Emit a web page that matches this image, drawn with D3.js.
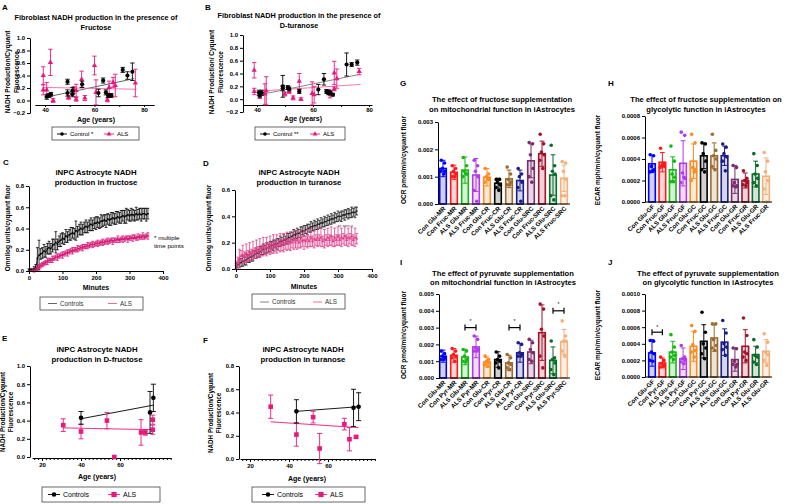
<!DOCTYPE html>
<html><head><meta charset="utf-8">
<script src="https://cdn.jsdelivr.net/npm/d3@7"></script>
<style>body{margin:0;background:#fff}svg{font-family:"Liberation Sans",Arial,sans-serif;display:block}</style>
</head><body><svg id="c" width="791" height="504"></svg>
<script>
// ---------------- DATA ----------------
// Panel A (fibroblast, fructose)
const ageA_ctrl = [40.7,41.7,42.4,49.1,49.1,51.1,51.1,55.0,61.6,63.5,64.6,65.5,66.8,71.4,73.3,75.3];
const valA_ctrl = [0.06,0.08,0.10,0.30,0.12,0.16,0.10,0.26,0.12,0.32,0.13,0.08,0.08,0.49,0.40,0.46];
const sdA_ctrl  = [0.04,0.03,0.03,0.04,0.05,0.05,0.04,0.05,0.06,0.04,0.04,0.03,0.03,0.04,0.06,0.14];
const ageA_als = [39.3,39.3,40.7,42.2,43.3,49.5,51.7,52.6,52.6,54.8,56.1,60.0,60.6,65.2,65.9,67.5,68.4,76.5];
const valA_als = [0.40,0.17,0.17,0.61,0.00,0.05,0.17,0.02,0.16,0.34,0.04,0.56,0.13,0.01,0.21,0.29,0.24,0.28];
const sdA_als  = [0.14,0.08,0.12,0.21,0.03,0.03,0.05,0.03,0.10,0.13,0.04,0.15,0.20,0.03,0.10,0.08,0.18,0.22];
const fitA_ctrl = [[40,0.05],[76,0.35]];
const fitA_als  = [[39,0.21],[77,0.18]];
// Panel B (fibroblast, D-turanose)
const ageB_ctrl = [40.7,41.7,41.0,49.2,49.2,51.0,51.5,55.1,61.9,63.9,64.8,65.5,66.2,67.1,72.0,73.8,75.8];
const valB_ctrl = [0.10,0.10,0.06,0.20,0.17,0.18,0.16,0.12,0.15,0.31,0.12,0.10,0.10,0.07,0.54,0.54,0.57];
const sdB_ctrl  = [0.04,0.04,0.03,0.17,0.04,0.03,0.03,0.03,0.08,0.09,0.03,0.03,0.03,0.02,0.18,0.03,0.04];
const ageB_als = [39.0,39.0,41.0,42.8,43.3,50.0,51.5,52.9,55.1,55.7,59.7,60.4,65.7,66.1,67.6,68.5,67.6,76.5];
const valB_als = [0.45,0.12,0.06,0.08,0.13,0.08,0.12,0.02,0.28,0.00,0.09,0.07,0.12,0.07,0.41,0.32,0.16,0.43];
const sdB_als  = [0.12,0.05,0.05,0.16,0.22,0.03,0.03,0.03,0.12,0.02,0.18,0.13,0.03,0.05,0.18,0.15,0.03,0.05];
const fitB_ctrl = [[40,0.06],[76,0.38]];
const fitB_als  = [[39,0.12],[77,0.23]];
// Panel C (iNPC astrocyte time course, fructose), minutes 0..355 step 5
const minutes = [0,5,10,15,20,25,30,35,40,45,50,55,60,65,70,75,80,85,90,95,100,105,110,115,120,125,130,135,140,145,150,155,160,165,170,175,180,185,190,195,200,205,210,215,220,225,230,235,240,245,250,255,260,265,270,275,280,285,290,295,300,305,310,315,320,325,330,335,340,345,350,355];
const ctrlC = [0.01,0.01,0.01,0.02,0.03,0.12,0.15,0.16,0.17,0.19,0.18,0.21,0.22,0.21,0.24,0.25,0.27,0.25,0.28,0.29,0.31,0.30,0.33,0.32,0.34,0.35,0.36,0.35,0.38,0.37,0.39,0.40,0.39,0.41,0.42,0.41,0.43,0.44,0.43,0.45,0.45,0.46,0.45,0.47,0.47,0.48,0.47,0.49,0.48,0.49,0.50,0.49,0.50,0.51,0.50,0.51,0.52,0.51,0.52,0.53,0.52,0.53,0.53,0.52,0.54,0.53,0.54,0.53,0.54,0.54,0.53,0.54];
const sdCtrlC = [0.01,0.01,0.01,0.02,0.03,0.10,0.14,0.05,0.05,0.06,0.05,0.05,0.06,0.05,0.06,0.05,0.10,0.05,0.05,0.06,0.05,0.05,0.06,0.05,0.05,0.06,0.05,0.05,0.09,0.05,0.05,0.06,0.05,0.05,0.06,0.05,0.05,0.06,0.05,0.05,0.06,0.05,0.05,0.06,0.05,0.05,0.06,0.05,0.05,0.06,0.05,0.05,0.06,0.05,0.05,0.06,0.05,0.06,0.07,0.05,0.05,0.06,0.05,0.05,0.06,0.05,0.05,0.06,0.05,0.05,0.06,0.05];
const alsC = [0.00,0.00,0.00,0.00,0.01,0.02,0.04,0.05,0.06,0.07,0.08,0.09,0.10,0.10,0.11,0.12,0.13,0.13,0.14,0.15,0.15,0.16,0.17,0.17,0.18,0.19,0.19,0.20,0.20,0.21,0.21,0.22,0.22,0.23,0.23,0.24,0.24,0.25,0.25,0.25,0.26,0.26,0.26,0.27,0.27,0.27,0.28,0.28,0.28,0.29,0.28,0.29,0.29,0.30,0.29,0.30,0.30,0.30,0.31,0.30,0.31,0.31,0.31,0.32,0.31,0.32,0.32,0.32,0.33,0.32,0.33,0.33];
const sdAlsC = [0.00,0.00,0.00,0.01,0.01,0.02,0.02,0.02,0.02,0.02,0.02,0.03,0.02,0.02,0.03,0.02,0.02,0.03,0.02,0.02,0.03,0.02,0.02,0.03,0.02,0.02,0.03,0.02,0.02,0.03,0.02,0.02,0.03,0.02,0.02,0.03,0.02,0.02,0.03,0.02,0.02,0.03,0.02,0.02,0.03,0.02,0.02,0.03,0.02,0.02,0.03,0.02,0.02,0.03,0.02,0.02,0.03,0.02,0.02,0.03,0.02,0.02,0.03,0.02,0.02,0.03,0.02,0.02,0.03,0.02,0.02,0.03];
// Panel D (turanose)
const ctrlD = [0.02,0.03,0.04,0.05,0.06,0.06,0.07,0.08,0.09,0.09,0.10,0.11,0.12,0.12,0.13,0.14,0.15,0.15,0.16,0.16,0.17,0.18,0.18,0.19,0.19,0.20,0.21,0.21,0.22,0.22,0.23,0.24,0.24,0.25,0.26,0.26,0.27,0.27,0.28,0.29,0.29,0.30,0.30,0.31,0.32,0.32,0.33,0.33,0.34,0.34,0.35,0.35,0.36,0.36,0.37,0.37,0.38,0.38,0.39,0.39,0.40,0.40,0.40,0.41,0.41,0.42,0.42,0.42,0.43,0.43,0.43,0.44];
const sdCtrlD = [0.02,0.02,0.03,0.03,0.04,0.03,0.04,0.03,0.04,0.03,0.04,0.03,0.04,0.03,0.04,0.03,0.04,0.03,0.04,0.03,0.04,0.03,0.04,0.03,0.04,0.03,0.04,0.03,0.04,0.03,0.04,0.03,0.04,0.03,0.04,0.03,0.04,0.03,0.04,0.03,0.04,0.03,0.04,0.03,0.04,0.03,0.04,0.03,0.04,0.03,0.04,0.03,0.04,0.03,0.04,0.03,0.04,0.03,0.04,0.03,0.04,0.03,0.04,0.03,0.04,0.03,0.04,0.03,0.04,0.03,0.04,0.03];
const alsD = [0.03,0.05,0.08,0.10,0.11,0.09,0.12,0.10,0.13,0.11,0.14,0.12,0.15,0.13,0.16,0.14,0.17,0.15,0.17,0.16,0.18,0.16,0.19,0.17,0.19,0.18,0.20,0.18,0.20,0.19,0.21,0.19,0.21,0.20,0.22,0.20,0.22,0.20,0.23,0.21,0.22,0.21,0.23,0.21,0.24,0.21,0.23,0.22,0.24,0.22,0.24,0.21,0.23,0.22,0.24,0.22,0.25,0.21,0.24,0.22,0.25,0.22,0.24,0.23,0.25,0.22,0.24,0.23,0.25,0.22,0.24,0.23];
const sdAlsD = [0.03,0.04,0.07,0.04,0.07,0.04,0.07,0.04,0.07,0.04,0.07,0.04,0.07,0.04,0.07,0.04,0.07,0.04,0.07,0.04,0.07,0.04,0.07,0.04,0.07,0.04,0.07,0.04,0.07,0.04,0.07,0.04,0.07,0.04,0.07,0.04,0.07,0.04,0.07,0.04,0.07,0.04,0.07,0.04,0.07,0.04,0.07,0.04,0.07,0.04,0.07,0.04,0.07,0.04,0.07,0.04,0.07,0.04,0.07,0.04,0.07,0.04,0.07,0.04,0.07,0.04,0.07,0.04,0.07,0.04,0.07,0.04];
// Panel E (iNPC astrocyte, D-fructose)
const ageE_ctrl = [40,75.4,77.1];
const valE_ctrl = [0.43,0.49,0.65];
const sdE_ctrl  = [0.07,0.23,0.15];
const ageE_als = [30.9,40,53.3,57.1,70.8,73.0,76.8,76.8];
const valE_als = [0.35,0.28,0.40,0.00,0.27,0.27,0.30,0.41];
const sdE_als  = [0.07,0.08,0.09,0.00,0.14,0.03,0.05,0.05];
const fitE_ctrl = [[40,0.42],[77.1,0.57]];
const fitE_als  = [[30.9,0.32],[77.1,0.30]];
// Panel F (iNPC astrocyte, turanose)
const ageF_ctrl = [43.8,73.1,75.7];
const valF_ctrl = [0.41,0.44,0.45];
const sdF_ctrl  = [0.10,0.16,0.12];
const ageF_als = [30.6,43.8,52.4,55.7,68.4,71.0,74.4];
const valF_als = [0.45,0.21,0.36,0.09,0.30,0.17,0.19];
const sdF_als  = [0.10,0.10,0.05,0.13,0.05,0.10,0.01];
const fitF_ctrl = [[43.8,0.41],[75.7,0.45]];
const fitF_als  = [[30.6,0.32],[75.7,0.27]];
// Bar panels
const barColors = ['#0000ff','#ff1a1a','#14b814','#b23ae8','#ff8a1f','#000000','#9c6b30','#1c1c8a','#7b2d6b','#a3122a','#0b6b2b','#f5b07a'];
const catsG = ['Con Glu-MR','Con Fruc-MR','ALS Glu-MR','ALS Fruc-MR','Con Glu-CR','Con Fruc-CR','ALS Glu-CR','ALS Fruc-CR','Con Glu-SRC','Con Fruc-SRC','ALS Glu-SRC','ALS Fruc-SRC'];
const meanG = [0.00130,0.00116,0.00124,0.00106,0.00098,0.00076,0.00092,0.00086,0.00158,0.00184,0.00106,0.00094];
const sdG   = [0.00030,0.00026,0.00048,0.00060,0.00032,0.00018,0.00032,0.00038,0.00062,0.00046,0.00074,0.00048];
const ptsG = [[1.6,1.5,1.3,1.2,1.2,1.1],[1.4,1.3,1.2,1.1,1.0,1.0],[1.7,1.4,1.2,1.1,1.0,1.1],[1.6,1.4,1.2,1.0,0.5,0.1],[1.3,1.1,1.0,0.9,0.8,0.9],[0.9,0.9,0.8,0.7,0.6,0.5],[1.35,1.1,0.9,0.8,0.7,0.7],[1.3,1.1,1.0,0.8,0.6,0.1],[2.25,2.2,1.8,1.3,1.0,0.8],[2.55,2.2,1.9,1.8,1.6,1.3],[2.15,1.4,1.2,1.1,0.3,0.15],[1.55,1.5,1.2,0.9,0.3,0.3]];
const catsH = ['Con Glu-GF','Con Fruc-GF','ALS Glu-GF','ALS Fruc-GF','Con Glu-GC','Con Fruc-GC','ALS Glu-GC','ALS Fruc-GC','Con Glu-GR','Con Fruc-GR','ALS Glu-GR','ALS Fruc-GR'];
const meanH = [0.000355,0.000370,0.000300,0.000360,0.000380,0.000430,0.000430,0.000430,0.000210,0.000200,0.000260,0.000240];
const sdH   = [0.000080,0.000090,0.000120,0.000210,0.000160,0.000120,0.000120,0.000090,0.000130,0.000070,0.000120,0.000170];
const ptsH = [[4.4,4.3,3.3,3.0,2.8,2.9],[5.0,3.5,3.4,3.3,3.2,3.6],[5.2,3.8,2.6,2.3,1.9,1.9],[6.5,6.2,2.7,2.2,1.8,2.3],[6.3,5.5,3.2,3.0,2.0,2.8],[5.5,5.4,4.5,3.8,3.0,2.8],[6.3,4.8,4.3,4.0,3.3,3.0],[5.4,5.1,4.5,4.2,3.8,2.9],[3.4,3.2,1.8,1.5,1.5,1.4],[2.9,2.2,2.0,1.8,1.6,1.5],[4.5,3.4,2.6,2.2,1.8,1.5],[4.6,3.8,2.8,2.0,1.2,0.0]];
const catsI = ['Con Glu-MR','Con Pyr-MR','ALS Glu-MR','ALS Pyr-MR','Con Glu-CR','Con Pyr-CR','ALS Glu-CR','ALS Pyr-CR','Con Glu-SRC','Con Pyr-SRC','ALS Glu-SRC','ALS Pyr-SRC'];
const meanI = [0.00130,0.00135,0.00125,0.00185,0.00095,0.00110,0.00090,0.00150,0.00155,0.00270,0.00105,0.00215];
const sdI   = [0.00036,0.00040,0.00046,0.00064,0.00030,0.00046,0.00046,0.00056,0.00070,0.00165,0.00080,0.00074];
const ptsI = [[1.6,1.45,1.3,1.2,1.1,1.1],[1.75,1.6,1.4,1.25,1.2,1.0],[1.7,1.6,1.3,1.1,1.0,0.95],[2.5,2.3,1.8,1.7,1.6,1.6],[1.3,1.1,1.0,0.9,0.8,0.7],[1.55,1.3,1.1,1.0,0.9,0.6],[1.4,1.2,0.9,0.8,0.6,0.5],[2.1,2.0,1.5,1.4,1.3,1.3],[2.3,2.1,1.7,1.5,1.1,1.0],[4.4,4.1,2.9,2.5,1.3,0.6],[2.2,1.2,1.1,0.9,0.5,0.2],[3.4,2.5,2.2,2.2,1.6,1.3]];
const catsJ = ['Con Glu-GF','Con Pyr-GF','ALS Glu-GF','ALS Pyr-GF','Con Glu-GC','Con Pyr-GC','ALS Glu-GC','ALS Glu-GC','Con Glu-GR','Con Pyr-GR','ALS Glu-GR','ALS Glu-GR'];
const meanJ = [0.000290,0.000170,0.000300,0.000220,0.000370,0.000430,0.000470,0.000420,0.000210,0.000370,0.000270,0.000310];
const sdJ   = [0.000160,0.000060,0.000130,0.000130,0.000180,0.000200,0.000160,0.000160,0.000140,0.000200,0.000100,0.000140];
const ptsJ = [[4.4,4.3,3.0,2.8,2.0,1.9],[2.4,2.0,1.6,1.4,1.2,1.3],[5.1,3.6,3.0,2.6,2.4,2.1],[3.8,2.4,2.2,2.0,1.8,1.6],[6.2,5.5,3.9,3.2,3.0,2.4],[7.8,5.4,4.0,3.5,2.8,2.2],[6.4,6.4,4.5,3.8,3.5,3.2],[6.8,5.3,4.0,3.6,3.3,2.6],[3.5,3.4,1.9,1.5,1.5,1.2],[7.1,5.0,3.0,2.8,2.4,2.0],[4.5,3.6,2.6,2.4,1.8,1.5],[5.2,4.2,3.0,2.7,2.0,1.4]];

// ---------------- DRAWING ----------------
const svg = d3.select('#c');
const FONT = '"Liberation Sans", Arial, sans-serif';
const PINK = '#e8197d';
const PINK_L = '#f06aa8';

function txt(x,y,s,o={}){
  const t = svg.append('text').attr('x',x).attr('y',y).text(s)
    .attr('font-family',FONT).attr('font-size',o.size||7)
    .attr('font-weight',o.bold===false?'normal':'bold')
    .attr('text-anchor',o.anchor||'start').attr('fill',o.fill||'#000');
  if(o.rotate!=null) t.attr('transform',`rotate(${o.rotate},${x},${y})`);
  return t;
}
function styleAxis(g,fs){
  g.select('.domain').attr('stroke','#000').attr('stroke-width',1);
  g.selectAll('line').attr('stroke','#000').attr('stroke-width',1);
  g.selectAll('text').attr('font-size',fs||6).attr('font-weight','bold').attr('font-family',FONT).attr('fill','#000');
}
function yAxis(x0,y,ticks,fmt){
  const g = svg.append('g').attr('transform',`translate(${x0},0)`)
    .call(d3.axisLeft(y).tickValues(ticks).tickFormat(fmt).tickSize(3).tickSizeOuter(0).tickPadding(2));
  styleAxis(g);
  return g;
}
function xAxis(y0,x,ticks,minor,ts,pad){
  if(minor){
    const gm = svg.append('g').attr('transform',`translate(0,${y0})`)
      .call(d3.axisBottom(x).tickValues(minor).tickFormat('').tickSize(2).tickSizeOuter(0));
    styleAxis(gm);
  }
  const g = svg.append('g').attr('transform',`translate(0,${y0})`)
    .call(d3.axisBottom(x).tickValues(ticks).tickFormat(d3.format('d')).tickSize(ts==null?3:ts).tickSizeOuter(0).tickPadding(pad==null?2:pad));
  styleAxis(g);
  return g;
}
function errBar(g,x,y1,y2,color,cap,w){
  g.append('line').attr('x1',x).attr('x2',x).attr('y1',y1).attr('y2',y2).attr('stroke',color).attr('stroke-width',w||0.9);
  g.append('line').attr('x1',x-cap).attr('x2',x+cap).attr('y1',y1).attr('y2',y1).attr('stroke',color).attr('stroke-width',w||0.9);
  g.append('line').attr('x1',x-cap).attr('x2',x+cap).attr('y1',y2).attr('y2',y2).attr('stroke',color).attr('stroke-width',w||0.9);
}
function marker(g,shape,x,y,color,sz){
  if(shape==='circle') g.append('circle').attr('cx',x).attr('cy',y).attr('r',sz||2.3).attr('fill',color);
  else if(shape==='square') g.append('rect').attr('x',x-(sz||2.6)).attr('y',y-(sz||2.6)).attr('width',2*(sz||2.6)).attr('height',2*(sz||2.6)).attr('fill',color);
  else if(shape==='triangle') g.append('path').attr('d',d3.symbol(d3.symbolTriangle,sz||14)()).attr('transform',`translate(${x},${y})`).attr('fill',color);
}
function scatterSeries(x,y,ages,vals,sds,color,shape,cap,msz){
  const g = svg.append('g');
  ages.forEach((a,i)=>{
    if(sds[i]>0) errBar(g,x(a),y(vals[i]+sds[i]),y(vals[i]-sds[i]),color,cap||2.5,0.9);
  });
  ages.forEach((a,i)=>marker(g,shape,x(a),y(vals[i]),color,msz));
}
function fitLine(x,y,pts,color,w){
  svg.append('path').attr('d',d3.line().x(d=>x(d[0])).y(d=>y(d[1]))(pts))
    .attr('stroke',color).attr('stroke-width',w||1).attr('fill','none');
}
function legendBox(x,y,w,h){
  svg.append('rect').attr('x',x).attr('y',y).attr('width',w).attr('height',h).attr('fill','#fff').attr('stroke','#444').attr('stroke-width',0.8);
}
function legendEntry(x,y,len,color,shape,label,msz,fs,bold,tc){
  svg.append('line').attr('x1',x).attr('x2',x+len).attr('y1',y).attr('y2',y).attr('stroke',color).attr('stroke-width',0.9);
  const g = svg.append('g');
  if(shape) marker(g,shape,x+len/2,y,color,msz);
  txt(x+len+3,y+2.3,label,{size:fs||6.5,bold:bold||false,fill:tc||'#000'});
}

// ===== Panel A =====
(function(){
  txt(2,10,'A',{size:8});
  txt(96,20,'Fibroblast NADH production in the presence of',{size:7.3,anchor:'middle'});
  txt(96,30,'Fructose',{size:7.3,anchor:'middle'});
  const x0 = d3.scaleLinear().domain([40,80]).range([45,144]);
  const y = d3.scaleLinear().domain([-0.2,1.0]).range([113,38]);
  yAxis(30,y,[-0.2,0,0.2,0.4,0.6,0.8,1.0],d3.format('.1f'));
  const xa = d3.scaleLinear().domain([36,84]).range([x0(36),x0(84)]);
  xAxis(105,xa,[40,60,80],[50,70],2,1);
  fitLine(x0,y,fitA_ctrl,'#555',0.9);
  fitLine(x0,y,fitA_als,PINK_L,0.9);
  scatterSeries(x0,y,ageA_als,valA_als,sdA_als,PINK,'triangle',2.2,12);
  scatterSeries(x0,y,ageA_ctrl,valA_ctrl,sdA_ctrl,'#000','circle',2.2,2.1);
  txt(96,122,'Age (years)',{size:7,anchor:'middle'});
  txt(10,72,'NADH Production/Cyquant',{size:6.5,anchor:'middle',rotate:-90});
  txt(19,72,'Fluorescence',{size:6.5,anchor:'middle',rotate:-90});
  legendBox(52,127,87,13);
  legendEntry(57,134,10,'#000','circle','Control *',1.8,6);
  legendEntry(104,134,10,PINK,'triangle','ALS',10,6);
})();

// ===== Panel B =====
(function(){
  txt(205,10,'B',{size:8});
  txt(299,18,'Fibroblast NADH production in the presence of',{size:7.3,anchor:'middle'});
  txt(299,28,'D-turanose',{size:7.3,anchor:'middle'});
  const x0 = d3.scaleLinear().domain([40,80]).range([257,369]);
  const y = d3.scaleLinear().domain([-0.2,1.0]).range([112,35]);
  yAxis(243,y,[-0.2,0,0.2,0.4,0.6,0.8,1.0],d3.format('.1f'));
  const xa = d3.scaleLinear().domain([35,81]).range([x0(35),x0(81)]);
  xAxis(105,xa,[40,60,80],[50,70],2,1);
  fitLine(x0,y,fitB_ctrl,'#777',0.9);
  fitLine(x0,y,fitB_als,PINK_L,0.9);
  scatterSeries(x0,y,ageB_als,valB_als,sdB_als,PINK,'triangle',2.2,12);
  scatterSeries(x0,y,ageB_ctrl,valB_ctrl,sdB_ctrl,'#000','circle',2.2,2.1);
  txt(303,121,'Age (years)',{size:7,anchor:'middle'});
  txt(214,72,'NADH Production/ Cyquant',{size:6.5,anchor:'middle',rotate:-90});
  txt(223,72,'Fluorescence',{size:6.5,anchor:'middle',rotate:-90});
  legendBox(255,127,90,13);
  legendEntry(260,134,10,'#000','circle','Control **',1.8,6);
  legendEntry(310,134,10,PINK,'triangle','ALS',10,6);
})();

// time-series helper
function timeSeries(x,y,vals,sds,color,cap,mshape){
  const g = svg.append('g');
  minutes.forEach((m,i)=>{
    if(sds[i]>0) errBar(g,x(m),y(vals[i]+sds[i]),y(vals[i]-sds[i]),color,cap,0.8);
  });
  g.append('path').attr('d',d3.line().x((d,i)=>x(minutes[i])).y(d=>y(d))(vals)).attr('stroke',color).attr('stroke-width',0.8).attr('fill','none');
  minutes.forEach((m,i)=>marker(g,mshape,x(m),y(vals[i]),color,mshape==='circle'?0.9:4));
}

// ===== Panel C =====
(function(){
  txt(3,165,'C',{size:8});
  txt(96,175,'iNPC Astrocyte NADH',{size:7.8,anchor:'middle'});
  txt(96,185,'production in fructose',{size:7.8,anchor:'middle'});
  const x = d3.scaleLinear().domain([0,400]).range([29,163]);
  const y = d3.scaleLinear().domain([0,0.8]).range([271,186]);
  timeSeries(x,y,ctrlC,sdCtrlC,'#000',1.4,'circle');
  timeSeries(x,y,alsC,sdAlsC,'#d81b78',1.4,'triangle');
  yAxis(29,y,[0,0.2,0.4,0.6,0.8],d3.format('.1f'));
  xAxis(271,x,[0,100,200,300,400]);
  txt(96,290,'Minutes',{size:7,anchor:'middle'});
  txt(10,228,'Omnilog units/cyquant fluor',{size:6.5,anchor:'middle',rotate:-90});
  txt(154,240,'* multiple',{size:6.2,bold:false});
  txt(154,248,'time points',{size:6.2,bold:false});
  legendBox(40,297,103,13);
  legendEntry(48,303.5,9,'#555',null,'Controls',0,6.3,false,'#333');
  legendEntry(108,303.5,9,'#e85a9a',null,'ALS',0,6.3,false,'#333');
})();

// ===== Panel D =====
(function(){
  txt(203,166,'D',{size:8});
  txt(299,175,'iNPC Astrocyte NADH',{size:7.8,anchor:'middle'});
  txt(299,185,'production in turanose',{size:7.8,anchor:'middle'});
  const x = d3.scaleLinear().domain([0,400]).range([236,372]);
  const y = d3.scaleLinear().domain([0,0.6]).range([269,190]);
  timeSeries(x,y,ctrlD,sdCtrlD,'#222',1.4,'circle');
  timeSeries(x,y,alsD,sdAlsD,'#e0408a',1.4,'triangle');
  yAxis(235,y,[0,0.2,0.4,0.6],d3.format('.1f'));
  xAxis(269,x,[0,100,200,300,400]);
  txt(304,289,'Minutes',{size:7,anchor:'middle'});
  txt(211,228,'Omnilog units/cyquant fluor',{size:6.5,anchor:'middle',rotate:-90});
  txt(338,229,'** **** *',{size:4.5,bold:false,fill:'#555'});
  legendBox(252,294,93,15);
  legendEntry(260,302,9,'#777',null,'Controls',0,6.3,false,'#333');
  legendEntry(313,302,9,'#e85a9a',null,'ALS',0,6.3,false,'#333');
})();

// ===== Panel E =====
(function(){
  txt(2,341,'E',{size:8});
  txt(97,352,'iNPC Astrocyte NADH',{size:7.8,anchor:'middle'});
  txt(97,362,'production in D-fructose',{size:7.8,anchor:'middle'});
  const x0 = d3.scaleLinear().domain([20,60]).range([42,120]);
  const y = d3.scaleLinear().domain([0,1.0]).range([457,366]);
  yAxis(30,y,[0,0.2,0.4,0.6,0.8,1.0],d3.format('.1f'));
  const xa = d3.scaleLinear().domain([15,86]).range([x0(15),x0(86)]);
  const minor=[]; for(let v=16; v<=86; v+=2) minor.push(v);
  xAxis(458,xa,[20,40,60],minor);
  fitLine(x0,y,fitE_ctrl,'#000',0.9);
  fitLine(x0,y,fitE_als,PINK,0.9);
  scatterSeries(x0,y,ageE_als,valE_als,sdE_als,PINK,'square',2.5,2.3);
  scatterSeries(x0,y,ageE_ctrl,valE_ctrl,sdE_ctrl,'#000','circle',2.5,2.3);
  txt(97,479,'Age (years)',{size:7,anchor:'middle'});
  txt(5,412,'NADH Production/Cyquant',{size:6.3,anchor:'middle',rotate:-90});
  txt(13,412,'Fluorescence',{size:6.3,anchor:'middle',rotate:-90});
  legendBox(42,487,118,15);
  legendEntry(48,494.5,12,'#000','circle','Controls',2.3,7);
  legendEntry(108,494.5,12,PINK,'square','ALS',2.6,7);
})();

// ===== Panel F =====
(function(){
  txt(203,343,'F',{size:8});
  txt(303,352,'iNPC Astrocyte NADH',{size:7.8,anchor:'middle'});
  txt(303,362,'production in turanose',{size:7.8,anchor:'middle'});
  const x0 = d3.scaleLinear().domain([20,60]).range([250,328]);
  const y = d3.scaleLinear().domain([0,0.8]).range([459,366]);
  yAxis(239,y,[0,0.2,0.4,0.6,0.8],d3.format('.1f'));
  const xa = d3.scaleLinear().domain([15,84]).range([x0(15),x0(84)]);
  const minor=[]; for(let v=16; v<=84; v+=2) minor.push(v);
  xAxis(459,xa,[20,40,60],minor);
  fitLine(x0,y,fitF_ctrl,'#000',0.9);
  fitLine(x0,y,fitF_als,PINK,0.9);
  scatterSeries(x0,y,ageF_als,valF_als,sdF_als,PINK,'square',2.5,2.3);
  scatterSeries(x0,y,ageF_ctrl,valF_ctrl,sdF_ctrl,'#000','circle',2.5,2.3);
  txt(307,481,'Age (years)',{size:7,anchor:'middle'});
  txt(213,413,'NADH Production/Cyquant',{size:6.3,anchor:'middle',rotate:-90});
  txt(221,413,'Fluorescence',{size:6.3,anchor:'middle',rotate:-90});
  legendBox(252,487,113,15);
  legendEntry(262,494.5,12,'#000','circle','Controls',2.3,7);
  legendEntry(315,494.5,12,PINK,'square','ALS',2.6,7);
})();

// ===== Bar panels =====
const jitter = [-1.8,1.6,-0.6,2.0,-2.2,0.8];
function barPanel(o){
  const x = d3.scalePoint().domain(d3.range(o.cats.length)).range([o.c0,o.c1]);
  const y = d3.scaleLinear().domain([0,o.ymax]).range([o.y0,o.y1]);
  const g = svg.append('g');
  const bw = 6.6;
  o.cats.forEach((c,i)=>{
    const col = barColors[i], cx = x(i);
    g.append('rect').attr('x',cx-bw/2).attr('y',y(o.mean[i])).attr('width',bw).attr('height',y(0)-y(o.mean[i]))
      .attr('fill',col).attr('fill-opacity',0.18).attr('stroke',col).attr('stroke-width',1.6);
    errBar(g,cx,y(o.mean[i]+o.sd[i]),y(Math.max(0,o.mean[i]-o.sd[i])),col,2.4,1);
    o.pts[i].forEach((p,k)=>{
      g.append('circle').attr('cx',cx+jitter[k]).attr('cy',y(p*o.pscale)).attr('r',1.8).attr('fill',col);
    });
    txt(cx+3,o.y0+5,c,{size:6.3,anchor:'end',rotate:-45});
  });
  yAxis(o.ax,y,o.ticks,d3.format(o.fmt));
  svg.append('line').attr('x1',o.ax).attr('x2',o.c1+6).attr('y1',o.y0).attr('y2',o.y0).attr('stroke','#000').attr('stroke-width',1);
  return {x,y};
}

// G
(function(){
  txt(400,86,'G',{size:8});
  txt(502,102,'The effect of fructose supplementation',{size:7.6,anchor:'middle'});
  txt(502,112,'on mitochondrial function in iAstrocytes',{size:7.6,anchor:'middle'});
  barPanel({cats:catsG,mean:meanG,sd:sdG,pts:ptsG,pscale:0.001,ymax:0.003,y0:204,y1:122,c0:443,c1:564,ax:438,ticks:[0,0.001,0.002,0.003],fmt:'.3f'});
  txt(406,160,'OCR pmol/min/cyquant fluor',{size:6.5,anchor:'middle',rotate:-90});
})();
// H
(function(){
  txt(608,86,'H',{size:8});
  txt(706,102,'The effect of fructose supplementation on',{size:7.6,anchor:'middle'});
  txt(706,112,'glycolytic function in iAstrocytes',{size:7.6,anchor:'middle'});
  barPanel({cats:catsH,mean:meanH,sd:sdH,pts:ptsH,pscale:0.0001,ymax:0.0008,y0:202,y1:116,c0:652,c1:766,ax:645,ticks:[0,0.0002,0.0004,0.0006,0.0008],fmt:'.4f'});
  txt(600,160,'ECAR mph/min/cyquant fluor',{size:6.5,anchor:'middle',rotate:-90});
})();
// I
(function(){
  txt(400,265,'I',{size:8});
  txt(503,276,'The effect of pyruvate supplementation',{size:7.6,anchor:'middle'});
  txt(503,285,'on mitochondrial function in iAstrocytes',{size:7.6,anchor:'middle'});
  const s = barPanel({cats:catsI,mean:meanI,sd:sdI,pts:ptsI,pscale:0.001,ymax:0.005,y0:378,y1:294,c0:443,c1:564,ax:439,ticks:[0,0.001,0.002,0.003,0.004,0.005],fmt:'.3f'});
  [[2,3,0.0030],[6,7,0.0030],[10,11,0.0040]].forEach(b=>{
    const yy = s.y(b[2]), x1 = s.x(b[0]), x2 = s.x(b[1]);
    svg.append('line').attr('x1',x1).attr('x2',x2).attr('y1',yy).attr('y2',yy).attr('stroke','#000').attr('stroke-width',1.2);
    svg.append('line').attr('x1',x1).attr('x2',x1).attr('y1',yy-3).attr('y2',yy+3).attr('stroke','#000').attr('stroke-width',1.2);
    svg.append('line').attr('x1',x2).attr('x2',x2).attr('y1',yy-3).attr('y2',yy+3).attr('stroke','#000').attr('stroke-width',1.2);
    txt((x1+x2)/2,yy-5,'*',{size:5,anchor:'middle',bold:false});
  });
  txt(406,335,'OCR pmol/min/cyquant fluor',{size:6.5,anchor:'middle',rotate:-90});
})();
// J
(function(){
  txt(608,265,'J',{size:8});
  txt(708,276,'The effect of pyruvate supplementation',{size:7.6,anchor:'middle'});
  txt(708,285,'on  glycolytic function in iAstrocytes',{size:7.6,anchor:'middle'});
  const s = barPanel({cats:catsJ,mean:meanJ,sd:sdJ,pts:ptsJ,pscale:0.0001,ymax:0.001,y0:377,y1:294,c0:652,c1:766,ax:645,ticks:[0,0.0002,0.0004,0.0006,0.0008,0.0010],fmt:'.4f'});
  const yy = s.y(0.00054), x1 = s.x(0), x2 = s.x(1);
  svg.append('line').attr('x1',x1).attr('x2',x2).attr('y1',yy).attr('y2',yy).attr('stroke','#000').attr('stroke-width',1.2);
  svg.append('line').attr('x1',x1).attr('x2',x1).attr('y1',yy-3).attr('y2',yy+3).attr('stroke','#000').attr('stroke-width',1.2);
  svg.append('line').attr('x1',x2).attr('x2',x2).attr('y1',yy-3).attr('y2',yy+3).attr('stroke','#000').attr('stroke-width',1.2);
  txt((x1+x2)/2,yy-3,'*',{size:5,anchor:'middle',bold:false});
  txt(600,335,'ECAR mph/min/cyquant fluor',{size:6.5,anchor:'middle',rotate:-90});
})();
</script></body></html>
